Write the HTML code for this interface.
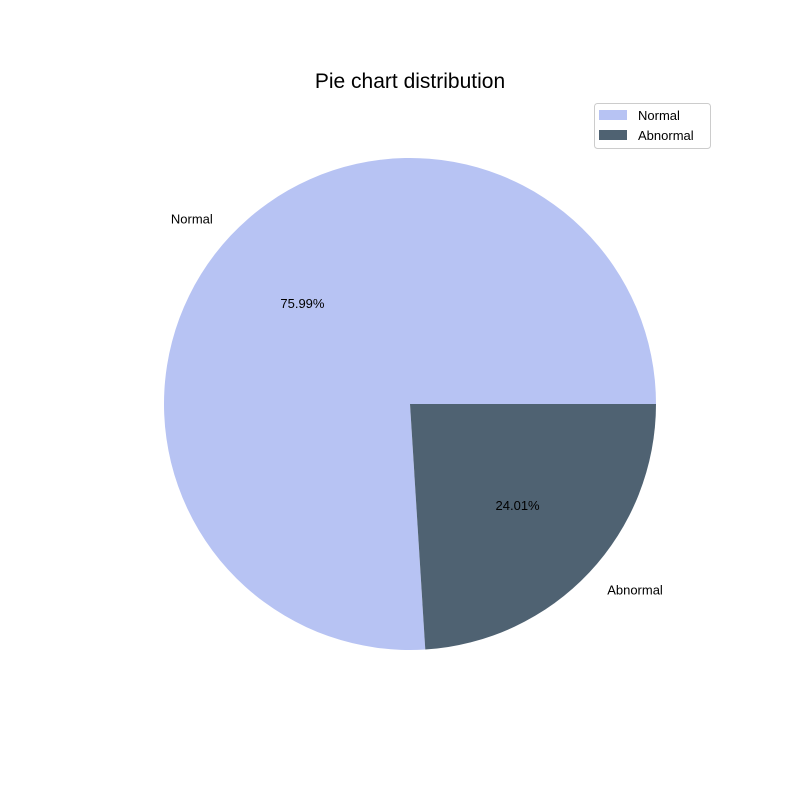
<!DOCTYPE html>
<html><head><meta charset="utf-8"><style>
body{margin:0;background:#fff;}
svg text{font-family:"Liberation Sans","DejaVu Sans",sans-serif;}
</style></head><body>
<svg id="chart" width="800" height="800" viewBox="0 0 800 800">
<rect width="800" height="800" fill="#fff"/>
<text x="410" y="88" font-size="21" text-anchor="middle">Pie chart distribution</text>
<g id="slices"></g>
<g id="legend">
<rect x="594.5" y="103.5" width="116" height="45" rx="3" fill="#fff" stroke="#ccc"/>
</g>
</svg>
<script>
const categories = ["Normal", "Abnormal"];
const values = [75.99, 24.01];
const colors = ["#b7c3f3", "#4f6272"];
const cx = 410, cy = 404, r = 246;
const svg = document.getElementById('slices');
const ns = "http://www.w3.org/2000/svg";
const total = values.reduce((a,b)=>a+b,0);
let start = 0;
function pt(a, rr){ const t = a*Math.PI/180; return [cx + rr*Math.cos(t), cy - rr*Math.sin(t)]; }
values.forEach((v,i)=>{
  const sweep = v/total*360, end = start + sweep;
  const p1 = pt(start, r), p2 = pt(end, r);
  const path = document.createElementNS(ns,'path');
  path.setAttribute('d', `M${cx},${cy} L${p1[0]},${p1[1]} A${r},${r} 0 ${sweep>180?1:0} 0 ${p2[0]},${p2[1]} Z`);
  path.setAttribute('fill', colors[i]);
  
  
  svg.appendChild(path);
  const mid = start + sweep/2;
  const lp = pt(mid, r*1.1);
  const lt = document.createElementNS(ns,'text');
  lt.setAttribute('x', lp[0]); lt.setAttribute('y', lp[1]+5);
  lt.setAttribute('font-size','13');
  lt.setAttribute('text-anchor', Math.cos(mid*Math.PI/180) < 0 ? 'end' : 'start');
  lt.textContent = categories[i];
  
  
  svg.appendChild(lt);
  const pp = pt(mid, r*0.6);
  const pt_ = document.createElementNS(ns,'text');
  pt_.setAttribute('x', pp[0]); pt_.setAttribute('y', pp[1]+5);
  pt_.setAttribute('font-size','13'); pt_.setAttribute('text-anchor','middle');
  pt_.textContent = (v/total*100).toFixed(2) + '%';
  
  
  svg.appendChild(pt_);
  start = end;
});
const lg = document.getElementById('legend');
categories.forEach((c,i)=>{
  const y = 110 + i*20;
  const sw = document.createElementNS(ns,'rect');
  sw.setAttribute('x', 599); sw.setAttribute('y', y); sw.setAttribute('width', 28); sw.setAttribute('height', 10);
  sw.setAttribute('fill', colors[i]);
  
  
  lg.appendChild(sw);
  const t = document.createElementNS(ns,'text');
  t.setAttribute('x', 638); t.setAttribute('y', y+10); t.setAttribute('font-size','13');
  t.textContent = c;
  
  
  lg.appendChild(t);
});
</script>
</body></html>
